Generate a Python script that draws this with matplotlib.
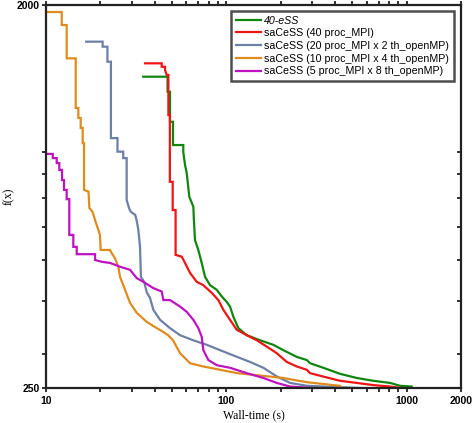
import matplotlib
matplotlib.use("Agg")
from matplotlib import pyplot as plt
from matplotlib.ticker import FixedLocator, NullFormatter
import numpy as np

# curve vertices (wall-time in s, f(x))
ess_t = [34.6, 47.2, 47.2, 48.7, 48.7, 50.6, 50.6, 57.7, 57.7, 59.0, 60.3, 62.3, 65.6, 66.0, 67.0,
         69.9, 73.0, 76.2, 81.2, 88.5, 94.3, 100.5, 104.8, 109.4, 116.6, 129.8, 153.8, 182.3,
         207.1, 245.8, 279.2, 291.2, 345.1, 427.2, 528.6, 653.6, 809, 919, 1067, 1072]
ess_f = [1355, 1355, 1249, 1249, 1061, 1061, 935, 935, 900, 839, 803, 706, 669, 629, 558,
         529, 493, 457, 437, 426, 411, 399, 389, 368, 346, 333, 324, 316,
         307, 296, 291, 286, 279, 270, 264, 260, 257, 253, 252, 250]

mpi_t = [35.4, 43.8, 43.8, 45.7, 45.7, 46.7, 47.7, 47.7, 48.6, 48.6, 50.4, 50.4, 52.3, 52.3,
         56.6, 59.0, 62.9, 68.5, 74.5, 83.0, 90.3, 96.3, 104.8, 114.2, 129.8, 147.5, 167.5,
         190.4, 216.3, 245.8, 279.2, 291.2, 345.1, 427.2, 528.6, 653.6, 809, 939]
mpi_f = [1457, 1457, 1430, 1430, 1405, 1368, 1368, 1100, 1100, 766, 766, 657, 657, 515,
         510, 493, 467, 445, 437, 419, 403, 382, 362, 343, 333, 324, 313,
         302, 288, 281, 276, 271, 266, 260, 257, 254, 252, 250]

th2_t = [16.7, 20.6, 20.6, 21.9, 21.9, 22.9, 22.9, 24.9, 24.9, 26.8, 26.8, 28.0, 28.0, 29.0,
         29.5, 31.2, 31.8, 32.5, 33.2, 33.5, 33.6, 35.0, 36.2, 37.7, 39.4, 42.9, 48.7, 55.4,
         65.4, 78.0, 92.3, 114.7, 135.4, 160.4, 191.1, 225.6, 280, 551]
th2_f = [1639, 1639, 1595, 1595, 1470, 1470, 971, 971, 902, 902, 871, 871, 694, 660,
         651, 640, 622, 590, 538, 475, 457, 445, 420, 408, 382, 362, 346, 333,
         324, 316, 307, 296, 288, 279, 266, 257, 253, 250]

th4_t = [10, 12.22, 12.22, 13.02, 13.02, 14.61, 14.61, 15.11, 15.11, 15.57, 15.57, 15.97, 15.97,
         16.25, 16.25, 17.2, 17.4, 18.1, 18.7, 19.5, 19.9, 20.1, 22.65, 23.14, 24.1, 25.18,
         25.73, 27.43, 29.23, 31.84, 36.18, 40.23, 44.7, 47.5, 50.6, 55.4, 62.9, 74.5, 88.5,
         114.7, 148, 206, 280, 427, 438]
th4_f = [1925, 1925, 1794, 1794, 1497, 1497, 1143, 1143, 1083, 1083, 1026, 1026, 945,
         945, 733, 726, 664, 651, 622, 590, 574, 529, 529, 520, 506, 483,
         457, 426, 397, 376, 358, 348, 339, 333, 324, 302, 286, 281, 277,
         271, 268, 264, 258, 253, 250]

th8_t = [10, 10.9, 10.9, 11.46, 11.46, 11.85, 11.85, 12.27, 12.27, 12.58, 12.58, 13.02, 13.02,
         13.46, 13.46, 14.17, 14.17, 14.8, 14.8, 18.7, 18.7, 20.4, 22.65, 25.73, 29.23, 31.84,
         34.64, 39.37, 43.83, 44.73, 48.72, 55.36, 60.3, 65.6, 69.92, 73.03, 74.53, 79.45,
         88.47, 104.8, 129.8, 160.4, 190.4, 225.6, 302.6]
th8_f = [891, 891, 871, 871, 848, 848, 817, 817, 773, 773, 733, 733, 697,
         697, 574, 574, 538, 538, 517, 517, 501, 496, 493, 483, 475, 454,
         445, 430, 422, 403, 403, 389, 378, 362, 346, 330, 307, 291,
         283, 279, 271, 264, 257, 252, 250]

labels = ["40-eSS", "saCeSS (40 proc_MPI)", "saCeSS (20 proc_MPI x 2 th_openMP)",
          "saCeSS (10 proc_MPI x 4 th_openMP)", "saCeSS (5 proc_MPI x 8 th_openMP)"]
colors = ["#0f870f", "#f01414", "#6c80a8", "#e08b1e", "#c012c0"]

fig = plt.figure(figsize=(4.73, 4.23), dpi=100)
ax = fig.add_axes([0.0973, 0.0827, 0.8773, 0.9055])

series = [(ess_t, ess_f), (mpi_t, mpi_f), (th2_t, th2_f), (th4_t, th4_f), (th8_t, th8_f)]
for (t, f), lab, c in zip(series, labels, colors):
    ax.plot(t, f, color=c, lw=1.6, label=lab, solid_joinstyle="miter")

ax.set_xscale("log")
ax.set_yscale("log")
ax.set_xlim(10, 2000)
ax.set_ylim(250, 2000)

xmaj = [10, 100, 1000, 2000]
xmin = [20, 30, 40, 50, 60, 70, 80, 90, 200, 300, 400, 500, 600, 700, 800, 900]
ax.xaxis.set_major_locator(FixedLocator(xmaj))
ax.xaxis.set_minor_locator(FixedLocator(xmin))
ax.set_xticklabels([str(v) for v in xmaj])
ax.xaxis.set_minor_formatter(NullFormatter())
ymaj = [250, 2000]
ymin = [300, 400, 500, 600, 700, 800, 900]
ax.yaxis.set_major_locator(FixedLocator(ymaj))
ax.yaxis.set_minor_locator(FixedLocator(ymin))
ax.set_yticklabels([str(v) for v in ymaj])
ax.yaxis.set_minor_formatter(NullFormatter())

ax.tick_params(which="both", direction="out", top=True, right=False, width=1.3,
               color="#222222", length=3)
ax.tick_params(labelsize=7.5)
ax.tick_params(axis="x", pad=3)
ax.tick_params(axis="y", pad=1.5)
# right side ticks point inward
ax2 = ax.twinx()
ax2.set_yscale("log")
ax2.set_ylim(250, 2000)
ax2.yaxis.set_major_locator(FixedLocator(ymaj))
ax2.yaxis.set_minor_locator(FixedLocator(ymin))
ax2.tick_params(which="both", direction="in", length=3, width=1.3, color="#222222",
                labelright=False)
for s in ax2.spines.values():
    s.set_visible(False)

for lab in ax.get_xticklabels() + ax.get_yticklabels():
    lab.set_fontfamily("Liberation Sans")
    lab.set_fontweight("bold")
for s in ax.spines.values():
    s.set_linewidth(1.6)
    s.set_color("#222222")

ax.set_xlabel("Wall-time (s)", family="Liberation Serif", fontsize=8.5, labelpad=2)
ax.set_ylabel("f(x)", family="Liberation Serif", fontsize=8.5, labelpad=1)

leg = ax.legend(loc="upper right", bbox_to_anchor=(0.983, 0.985), prop={"family": "Liberation Sans", "size": 7.7},
                frameon=True, fancybox=False, handlelength=2.3, handletextpad=0.35,
                borderpad=0.45, labelspacing=0.25, borderaxespad=0.0)
leg.get_frame().set_edgecolor("#222222")
leg.get_frame().set_linewidth(1.8)
leg.get_texts()[0].set_style("italic")

fig.savefig("out.png", dpi=100)
